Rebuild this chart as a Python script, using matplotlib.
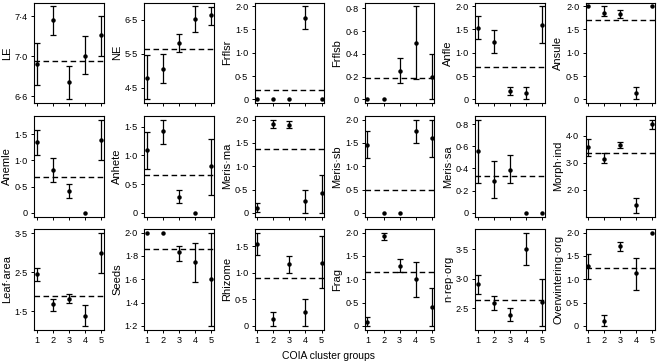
import matplotlib
matplotlib.use("Agg")
import matplotlib.pyplot as plt
from matplotlib.ticker import FixedLocator, FixedFormatter

plt.rcParams['font.family'] = ['Liberation Sans', 'DejaVu Sans']

groups = [1, 2, 3, 4, 5]

names = ["LE", "NE", "Frflsr", "Frflsb", "Anfle", "Ansule",
         "Anemle", "Anhete", "Meris·ma", "Meris·sb", "Meris·sa", "Morph·ind",
         "Leaf·area", "Seeds", "Rhizome", "Frag", "n·rep·org", "Overwintering·org"]

means = {
    "LE": [6.92, 7.36, 6.74, 7.00, 7.215],
    "NE": [4.80, 5.06, 5.82, 6.52, 6.62],
    "Frflsr": [0, 0, 0, 1.75, 0],
    "Frflsb": [0, 0, 0.253, 0.50, 0.20],
    "Anfle": [1.54, 1.23, 0.17, 0.135, 1.60],
    "Ansule": [2.0, 1.86, 1.84, 0.135, 2.0],
    "Anemle": [1.36, 0.81, 0.42, 0, 1.39],
    "Anhete": [1.09, 1.42, 0.28, 0, 0.806],
    "Meris·ma": [0.11, 1.91, 1.89, 0.25, 0.42],
    "Meris·sb": [1.46, 0, 0, 1.75, 1.60],
    "Meris·sa": [0.557, 0.29, 0.39, 0, 0],
    "Morph·ind": [3.59, 3.15, 3.65, 1.42, 4.43],
    "Leaf·area": [2.46, 1.68, 1.80, 1.38, 3.00],
    "Seeds": [2.0, 2.0, 1.83, 1.75, 1.60],
    "Rhizome": [1.54, 0.12, 1.17, 0.25, 1.19],
    "Frag": [0.09, 1.92, 1.28, 1.01, 0.40],
    "n·rep·org": [2.91, 2.58, 2.38, 3.50, 2.60],
    "Overwintering·org": [1.28, 0.11, 1.72, 1.13, 2.0],
}

lower = {
    "LE": [6.71, 7.215, 6.57, 6.82, 7.00],
    "NE": [4.17, 4.64, 5.55, 6.13, 6.34],
    "Frflsr": [0, 0, 0, 1.50, 0],
    "Frflsb": [0, 0, 0.147, 0.18, 0.0],
    "Anfle": [1.30, 1.00, 0.10, 0.0, 1.21],
    "Ansule": [2.0, 1.79, 1.75, 0.0, 2.0],
    "Anemle": [1.11, 0.59, 0.28, 0, 1.00],
    "Anhete": [0.76, 1.19, 0.165, 0, 0.31],
    "Meris·ma": [0.02, 1.83, 1.83, 0.0, 0.0],
    "Meris·sb": [1.18, 0, 0, 1.50, 1.20],
    "Meris·sa": [0.27, 0.13, 0.27, 0, 0],
    "Morph·ind": [3.27, 3.00, 3.56, 1.15, 4.26],
    "Leaf·area": [2.28, 1.51, 1.71, 1.12, 2.48],
    "Seeds": [2.0, 2.0, 1.76, 1.58, 1.20],
    "Rhizome": [1.33, 0.0, 1.00, 0.0, 0.71],
    "Frag": [0.0, 1.84, 1.16, 0.62, 0.0],
    "n·rep·org": [2.74, 2.46, 2.28, 3.24, 2.20],
    "Overwintering·org": [1.00, 0.0, 1.60, 0.77, 2.0],
}

upper = {
    "LE": [7.13, 7.50, 6.906, 7.20, 7.40],
    "NE": [5.45, 5.50, 6.08, 6.89, 6.86],
    "Frflsr": [0, 0, 0, 2.0, 0],
    "Frflsb": [0, 0, 0.368, 0.82, 0.40],
    "Anfle": [1.79, 1.48, 0.27, 0.26, 2.0],
    "Ansule": [2.0, 2.0, 1.92, 0.26, 2.0],
    "Anemle": [1.59, 1.05, 0.55, 0, 1.78],
    "Anhete": [1.40, 1.62, 0.40, 0, 1.29],
    "Meris·ma": [0.20, 2.0, 1.97, 0.50, 0.81],
    "Meris·sb": [1.75, 0, 0, 2.0, 2.0],
    "Meris·sa": [0.84, 0.47, 0.52, 0, 0],
    "Morph·ind": [3.87, 3.36, 3.77, 1.69, 4.60],
    "Leaf·area": [2.62, 1.82, 1.93, 1.65, 3.52],
    "Seeds": [2.0, 2.0, 1.89, 1.91, 2.0],
    "Rhizome": [1.75, 0.25, 1.32, 0.50, 1.68],
    "Frag": [0.19, 2.0, 1.43, 1.38, 0.81],
    "n·rep·org": [3.07, 2.70, 2.50, 3.78, 3.00],
    "Overwintering·org": [1.54, 0.23, 1.81, 1.46, 2.0],
}

overall = {
    "LE": 6.956, "NE": 5.63, "Frflsr": 0.20, "Frflsb": 0.184, "Anfle": 0.686,
    "Ansule": 1.70, "Anemle": 0.676, "Anhete": 0.65, "Meris·ma": 1.36,
    "Meris·sb": 0.50, "Meris·sa": 0.33, "Morph·ind": 3.36, "Leaf·area": 1.90,
    "Seeds": 1.86, "Rhizome": 0.90, "Frag": 1.16, "n·rep·org": 2.63,
    "Overwintering·org": 1.25,
}

yticks = {
    "LE": [6.6, 7.0, 7.4],
    "NE": [4.5, 5.5, 6.5],
    "Frflsr": [0, 0.5, 1.0, 1.5, 2.0],
    "Frflsb": [0, 0.2, 0.4, 0.6, 0.8],
    "Anfle": [0, 0.5, 1.0, 1.5, 2.0],
    "Ansule": [0, 0.5, 1.0, 1.5, 2.0],
    "Anemle": [0, 0.5, 1.0, 1.5],
    "Anhete": [0, 0.5, 1.0, 1.5],
    "Meris·ma": [0, 0.5, 1.0, 1.5, 2.0],
    "Meris·sb": [0, 0.5, 1.0, 1.5, 2.0],
    "Meris·sa": [0, 0.2, 0.4, 0.6, 0.8],
    "Morph·ind": [1.0, 2.0, 3.0, 4.0],
    "Leaf·area": [1.5, 2.5, 3.5],
    "Seeds": [1.2, 1.4, 1.6, 1.8, 2.0],
    "Rhizome": [0, 0.5, 1.0, 1.5],
    "Frag": [0, 0.5, 1.0, 1.5, 2.0],
    "n·rep·org": [2.5, 3.0, 3.5],
    "Overwintering·org": [0, 0.5, 1.0, 1.5, 2.0],
}

xlabel = "COIA cluster groups"


def fmt(v):
    if v == 0:
        return "0"
    return ("%.1f" % v).replace(".", "·")


W, H = 657, 363
fig = plt.figure(figsize=(W / 100, H / 100), dpi=100)

col_left = [34, 144.3, 254.6, 364.9, 475.2, 585.5]
ax_w = 69.5
row_bottom = [103, 216.5, 329.5]
ax_h = 100.5

for i, name in enumerate(names):
    r, c = divmod(i, 6)
    left = col_left[c] / W
    bottom = (H - row_bottom[r]) / H
    ax = fig.add_axes([left, bottom, ax_w / W, ax_h / H])
    m = means[name]
    lo = lower[name]
    hi = upper[name]
    for g, mv, l, h in zip(groups, m, lo, hi):
        if h > l:
            ax.errorbar([g], [mv], yerr=[[mv - l], [h - mv]], fmt='none',
                        ecolor='black', elinewidth=0.9, capsize=2.0,
                        capthick=0.9, zorder=2)
    ax.plot(groups, m, 'o', color='black', ms=2.2, zorder=3)
    ax.axhline(overall[name], color='black', lw=1.0, ls=(0, (4, 2.5)), zorder=1)

    allv = lo + hi + m + [overall[name]]
    ymin, ymax = min(allv), max(allv)
    pad = (ymax - ymin) * 0.04
    ax.set_ylim(ymin - pad, ymax + pad)
    ax.set_xlim(0.84, 5.16)

    ax.yaxis.set_major_locator(FixedLocator(yticks[name]))
    ax.yaxis.set_major_formatter(FixedFormatter([fmt(v) for v in yticks[name]]))
    ax.xaxis.set_major_locator(FixedLocator(groups))
    if r == 2:
        ax.set_xticklabels([str(g) for g in groups])
    else:
        ax.set_xticklabels([])
    ax.tick_params(axis='both', direction='out', length=2.5, width=0.7,
                   labelsize=6.6, pad=2, colors='black')
    for sp in ax.spines.values():
        sp.set_linewidth(0.8)
    ax.set_ylabel(name, fontsize=8, labelpad=2)

fig.text(0.5, (H - 356) / H, xlabel, ha='center', va='center', fontsize=7.5)

fig.savefig("out.png", dpi=100)
